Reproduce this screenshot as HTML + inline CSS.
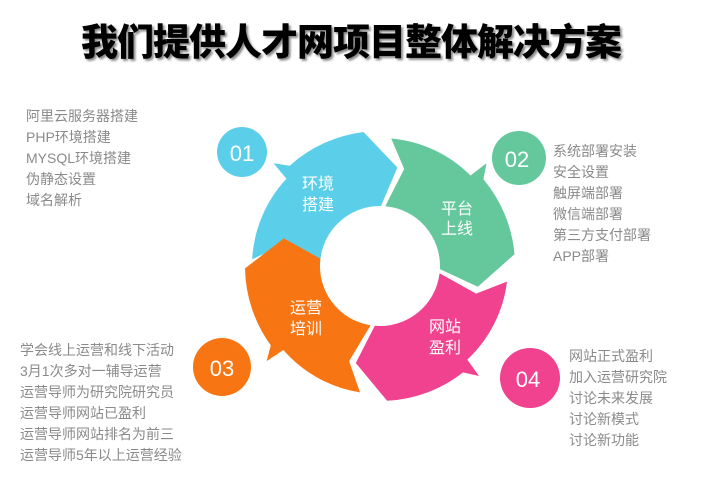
<!DOCTYPE html><html><head><meta charset="utf-8"><style>
body{margin:0;width:702px;height:488px;background:#fff;position:relative;overflow:hidden;font-family:"Liberation Sans","Noto Sans CJK SC",sans-serif}
.t{position:absolute;left:0;width:702px;top:12px;text-align:center;font-size:37px;font-weight:900;color:#000;text-shadow:2px 2px 2px #888;letter-spacing:-1px}
.l{position:absolute;color:#8a8a8a;font-size:14px;line-height:21px}
</style></head><body>
<div class="t">我们提供人才网项目整体解决方案</div>
<svg width="702" height="488" style="position:absolute;left:0;top:0" font-family="Liberation Sans,Noto Sans CJK SC,sans-serif">
<g id="segs"></g>
<circle cx="242" cy="152" r="25" fill="#5bcfea"/><text x="242" y="161" font-size="22" fill="#fff" text-anchor="middle">01</text>
<circle cx="519" cy="158" r="27" fill="#64c89c"/><text x="517" y="167" font-size="22" fill="#fff" text-anchor="middle">02</text>
<circle cx="222" cy="367" r="29" fill="#f77513"/><text x="222" y="376" font-size="22" fill="#fff" text-anchor="middle">03</text>
<circle cx="530" cy="378" r="30" fill="#f0428f"/><text x="528" y="387" font-size="22" fill="#fff" text-anchor="middle">04</text>
<g font-size="16" fill="#fff" text-anchor="middle">
<text x="318" y="189">环境</text><text x="318" y="210">搭建</text>
<text x="457" y="214">平台</text><text x="457" y="234">上线</text>
<text x="306" y="313">运营</text><text x="306" y="334">培训</text>
<text x="445" y="332">网站</text><text x="445" y="353">盈利</text>
</g>
</svg>
<div class="l" style="left:26px;top:106px">阿里云服务器搭建<br>PHP环境搭建<br>MYSQL环境搭建<br>伪静态设置<br>域名解析</div>
<div class="l" style="left:553px;top:141px">系统部署安装<br>安全设置<br>触屏端部署<br>微信端部署<br>第三方支付部署<br>APP部署</div>
<div class="l" style="left:20px;top:340px">学会线上运营和线下活动<br>3月1次多对一辅导运营<br>运营导师为研究院研究员<br>运营导师网站已盈利<br>运营导师网站排名为前三<br>运营导师5年以上运营经验</div>
<div class="l" style="left:569px;top:346px">网站正式盈利<br>加入运营研究院<br>讨论未来发展<br>讨论新模式<br>讨论新功能</div>
<script>
var cx=380,cy=266,ri=60,rm=100;
function p(r,a){a=a*Math.PI/180;return (cx+r*Math.cos(a)).toFixed(1)+","+(cy+r*Math.sin(a)).toFixed(1);}
var segs=[[183,"#5bcfea"],[275,"#64c89c"],[7,"#f0428f"],[99,"#f77513"]];
var g=document.getElementById("segs"),h="";
segs.forEach(function(s){var a=s[0];
var d="M"+p(128,a)+" A128,128 0 0 1 "+p(128,a+40)+" L"+p(148,a+41)+" L"+p(135,a+45)+" A135,135 0 0 1 "+p(135,a+80)+" L"+p(rm,a+97)+" L"+p(ri,a+88)+" A"+ri+","+ri+" 0 0 0 "+p(ri,a)+" L"+p(rm,a+9)+" Z";
h+='<path d="'+d+'" fill="'+s[1]+'"/>';});
g.innerHTML=h;
</script>
</body></html>
